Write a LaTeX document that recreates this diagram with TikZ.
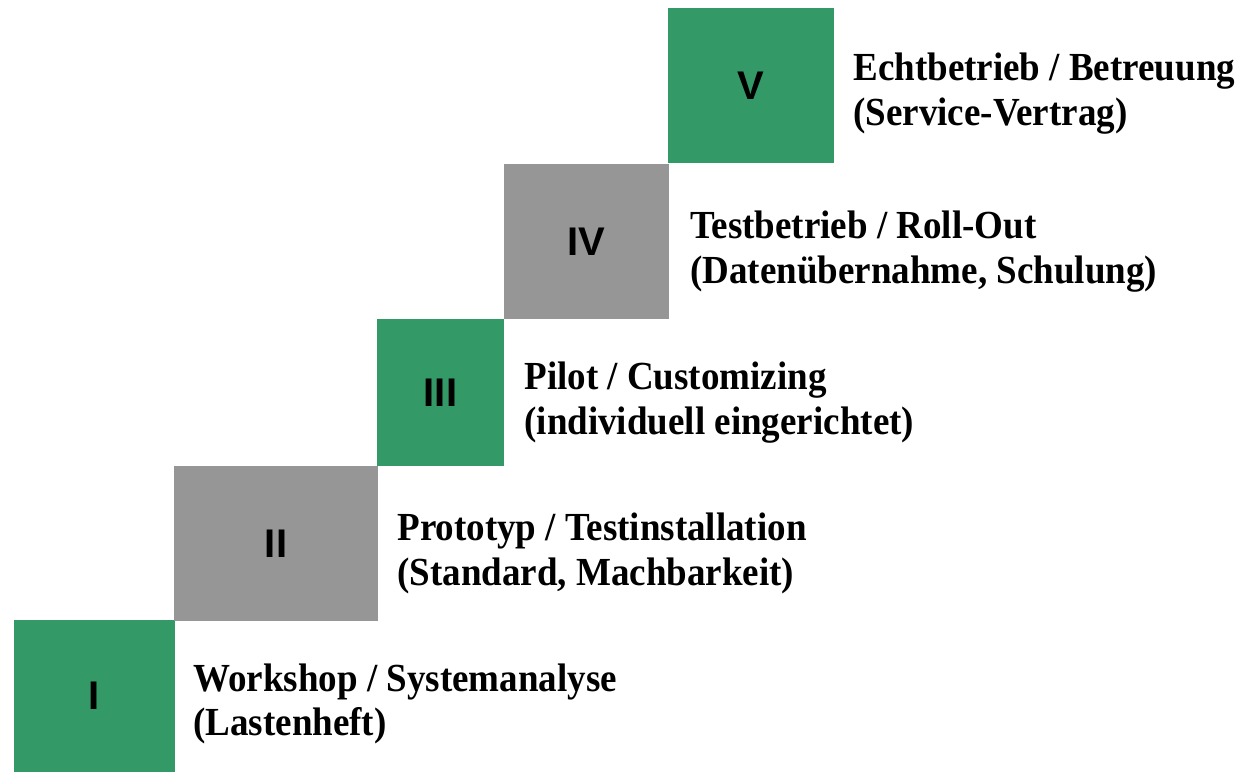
\documentclass[tikz,border=0pt]{standalone}
\usepackage{fontspec}
\setmainfont{Liberation Serif}
\newfontfamily\labelfont{Liberation Serif}[FakeStretch=0.93]
\newfontfamily\numfont{Liberation Sans}
\definecolor{stepgreen}{RGB}{51,153,102}
\definecolor{stepgray}{RGB}{150,150,150}

\begin{document}
\begin{tikzpicture}[
  x=1pt, y=-1pt,
  stepbox/.style={rectangle, inner sep=0pt, font=\numfont\bfseries\fontsize{40}{48}\selectfont},
  greenbox/.style={stepbox, fill=stepgreen},
  graybox/.style={stepbox, fill=stepgray},
  steptext/.style={anchor=west, inner sep=0pt, align=left, font=\labelfont\bfseries\fontsize{39.8}{44.5}\selectfont}
]
\useasboundingbox (0,0) rectangle (1245,772);

% Steps - from bottom left to top right
\node[greenbox, minimum width=161pt, minimum height=152pt] (s1) at (94.5,696) {I};
\node[graybox, minimum width=204pt, minimum height=155pt] (s2) at (276,543.5) {II};
\node[greenbox, minimum width=127pt, minimum height=147pt] (s3) at (440.5,392.5) {III};
\node[graybox, minimum width=165pt, minimum height=155pt] (s4) at (586.5,241.5) {IV};
\node[greenbox, minimum width=166pt, minimum height=155pt] (s5) at (751,85.5) {V};

% Labels
\node[steptext] (l1) at ([xshift=18pt,yshift=-8pt]s1.east) {Workshop / Systemanalyse\\(Lastenheft)};
\node[steptext] (l2) at ([xshift=19pt,yshift=-10pt]s2.east) {Prototyp / Testinstallation\\(Standard, Machbarkeit)};
\node[steptext] (l3) at ([xshift=20pt,yshift=-10pt]s3.east) {Pilot / Customizing\\(individuell eingerichtet)};
\node[steptext] (l4) at ([xshift=21pt,yshift=-10pt]s4.east) {Testbetrieb / Roll-Out\\(Datenübernahme, Schulung)};
\node[steptext] (l5) at ([xshift=19pt,yshift=-8pt]s5.east) {Echtbetrieb / Betreuung\\(Service-Vertrag)};

\end{tikzpicture}
\end{document}
